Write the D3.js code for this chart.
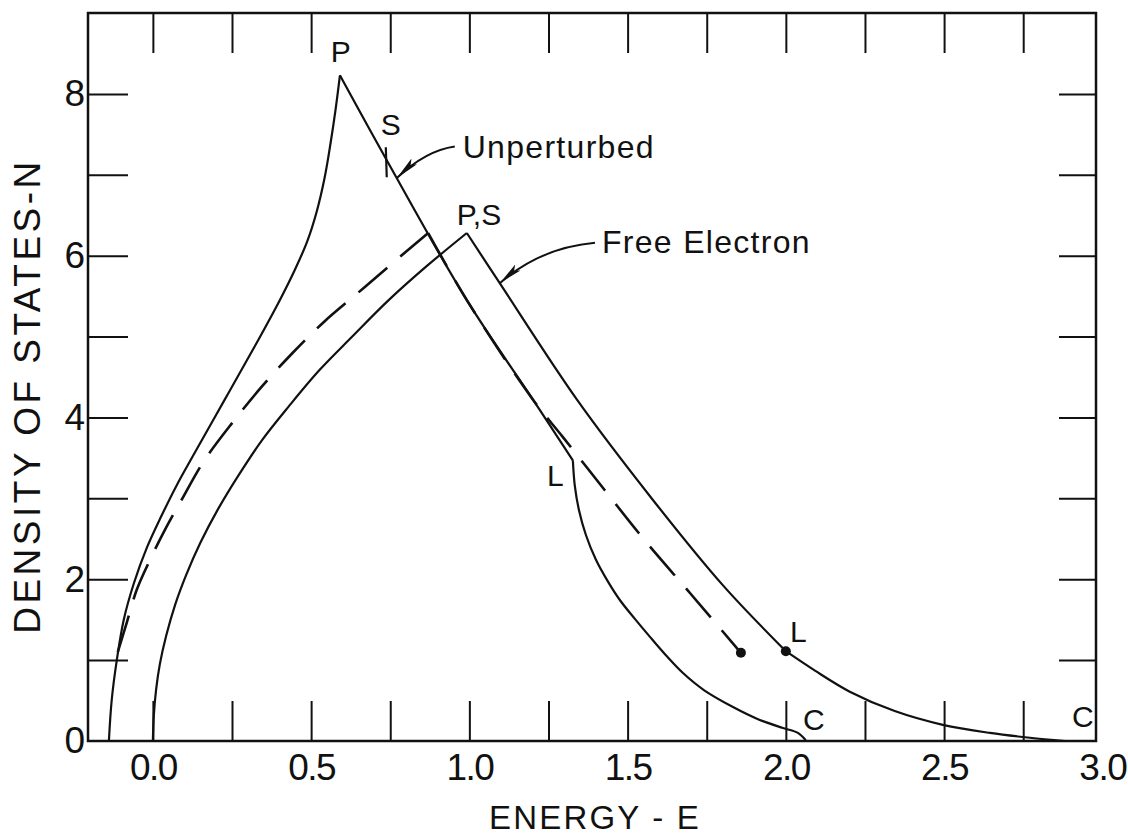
<!DOCTYPE html>
<html>
<head>
<meta charset="utf-8">
<script src="https://cdn.jsdelivr.net/npm/d3@7/dist/d3.min.js"></script>
<style>
  body { margin: 0; background: #fff; }
  text { font-family: "Liberation Sans", Arial, sans-serif; fill: #111; }
</style>
</head>
<body>
<svg id="chart" width="1128" height="836"></svg>
<script>

// [energy E, density N]
const unperturbedRise = [[-0.139,0],[-0.130,0.51],[-0.114,1.00],[-0.092,1.50],[-0.060,1.95],[-0.019,2.39],
  [0.028,2.79],[0.075,3.16],[0.126,3.52],[0.227,4.22],[0.322,4.88],[0.401,5.45],[0.448,5.82],[0.488,6.18],
  [0.518,6.55],[0.542,6.95],[0.561,7.38],[0.577,7.80],[0.591,8.23]];
const unperturbedFall = [[0.591,8.23],[0.739,7.18],[0.992,5.45],[1.201,4.22],[1.327,3.47]];
const unperturbedTail = [[1.327,3.47],[1.333,3.16],[1.346,2.86],[1.368,2.55],[1.400,2.24],[1.438,1.97],
  [1.476,1.74],[1.523,1.51],[1.570,1.29],[1.621,1.06],[1.675,0.84],[1.741,0.63],[1.833,0.42],[1.912,0.27],
  [1.991,0.16],[2.038,0.10],[2.063,0.01]];

const freeRise = [[0,0],[0.003,0.32],[0.010,0.63],[0.022,0.95],[0.042,1.30],[0.070,1.68],[0.105,2.05],
  [0.150,2.45],[0.205,2.86],[0.270,3.28],[0.345,3.72],[0.430,4.14],[0.525,4.58],[0.630,5.00],[0.745,5.45],
  [0.865,5.87],[0.992,6.28]];
const freeFall = [[0.992,6.28],[1.096,5.66],[1.340,4.22],[1.580,2.98],[1.800,1.93],[2.000,1.11]];
const freeTail = [[2.000,1.11],[2.092,0.87],[2.202,0.61],[2.344,0.37],[2.496,0.20],[2.645,0.10],
  [2.771,0.04],[2.882,0]];

const dashedRise = [[-0.111,1.10],[-0.082,1.47],[-0.051,1.87],[-0.009,2.24],[0.038,2.61],[0.092,2.99],
  [0.161,3.46],[0.250,3.93],[0.344,4.38],[0.442,4.80],[0.543,5.19],[0.645,5.53],[0.749,5.88],[0.870,6.28]];
const dashedFall = [[0.870,6.28],[0.992,5.45],[1.201,4.22],[1.295,3.76],[1.428,3.10],[1.548,2.51],
  [1.697,1.83],[1.858,1.09]];

const dots = [[1.858,1.09],[2.000,1.11]];

const tickE = [0,0.25,0.5,0.75,1,1.25,1.5,1.75,2,2.25,2.5,2.75];
const labelE = [0,0.5,1,1.5,2,2.5,3];
const tickN = [1,2,3,4,5,6,7,8];
const labelN = [0,2,4,6,8];

const pointLabels = [
  {t: "P", e: 0.594, n: 8.39, anchor: "middle"},
  {t: "S", e: 0.752, n: 7.49, anchor: "middle"},
  {t: "P,S", e: 0.960, n: 6.38, anchor: "start"},
  {t: "L", e: 1.245, n: 3.15, anchor: "start"},
  {t: "L", e: 2.013, n: 1.22, anchor: "start"},
  {t: "C", e: 2.054, n: 0.14, anchor: "start"},
  {t: "C", e: 2.904, n: 0.17, anchor: "start"}
];

const callouts = [
  {t: "Unperturbed", e: 0.979, n: 7.21, from: [0.954,7.35], ctrl: [0.862,7.30], to: [0.771,6.96]},
  {t: "Free Electron", e: 1.419, n: 6.03, from: [1.397,6.16], ctrl: [1.225,6.10], to: [1.096,5.66]}
];

let svg = d3.select("#chart");

let x = d3.scaleLinear().domain([-0.205, 2.98]).range([88, 1096]),
    y = d3.scaleLinear().domain([0, 9]).range([741, 13]);

let line = d3.line()
  .x(d => x(d[0]))
  .y(d => y(d[1]))
  .curve(d3.curveCatmullRom.alpha(0.5));

// inner ticks on all four sides
let ticks = (g, axis) => {
  g.call(axis.tickSizeOuter(0).tickFormat(""));
  g.select(".domain").remove();
  g.selectAll(".tick line").attr("stroke", "#111").attr("stroke-width", 2);
};

svg.append("g").attr("transform", `translate(0,${y(0)})`)
  .call(ticks, d3.axisBottom(x).tickValues(tickE).tickSize(-40));
svg.append("g").attr("transform", `translate(0,${y(9)})`)
  .call(ticks, d3.axisTop(x).tickValues(tickE).tickSize(-40));
svg.append("g").attr("transform", `translate(${x(-0.205)},0)`)
  .call(ticks, d3.axisLeft(y).tickValues(tickN).tickSize(-40));
svg.append("g").attr("transform", `translate(${x(2.98)},0)`)
  .call(ticks, d3.axisRight(y).tickValues(tickN).tickSize(-37));

svg.append("rect")
  .attr("x", x(-0.205)).attr("y", y(9))
  .attr("width", x(2.98) - x(-0.205)).attr("height", y(0) - y(9))
  .attr("fill", "none").attr("stroke", "#111").attr("stroke-width", 2.5);

// tick labels
let labels = (g, axis) => {
  g.call(axis);
  g.select(".domain").remove();
  g.attr("font-size", null).attr("font-family", null);
  g.selectAll("text").style("font-size", "37px").attr("fill", "#111");
};

svg.append("g").attr("transform", `translate(0,${y(0)})`)
  .call(labels, d3.axisBottom(x).tickValues(labelE).tickSize(0).tickPadding(13).tickFormat(d3.format(".1f")))
  .selectAll("text").attr("letter-spacing", -1.5);
svg.append("g").attr("transform", `translate(${x(-0.205)},0)`)
  .call(labels, d3.axisLeft(y).tickValues(labelN).tickSize(0).tickPadding(3).tickFormat(d3.format("d")));

// axis titles
svg.append("text")
  .attr("x", 595).attr("y", 829)
  .attr("text-anchor", "middle")
  .attr("font-size", 33)
  .attr("letter-spacing", 2.2)
  .text("ENERGY - E");

svg.append("text")
  .attr("transform", "translate(40,396) rotate(-90)")
  .attr("text-anchor", "middle")
  .attr("font-size", 37)
  .attr("letter-spacing", 3.5)
  .text("DENSITY OF STATES-N");

// curves
let plot = svg.append("g")
  .attr("fill", "none")
  .attr("stroke", "#111")
  .attr("stroke-width", 2.2)
  .attr("stroke-linejoin", "miter");

[unperturbedRise, unperturbedFall, unperturbedTail, freeRise, freeFall, freeTail].forEach(d => {
  plot.append("path").attr("d", line(d));
});

[dashedRise, dashedFall].forEach(d => {
  plot.append("path")
    .attr("d", line(d))
    .attr("stroke-width", 2.6)
    .attr("stroke-dasharray", "38,17");
});

svg.selectAll("circle.dot")
  .data(dots)
  .enter().append("circle")
  .classed("dot", true)
  .attr("cx", d => x(d[0]))
  .attr("cy", d => y(d[1]))
  .attr("r", 5)
  .attr("fill", "#111");

// S marker across the unperturbed line
svg.append("line")
  .attr("x1", x(0.736)).attr("y1", y(7.34))
  .attr("x2", x(0.739)).attr("y2", y(6.97))
  .attr("stroke", "#111").attr("stroke-width", 2.2);

svg.selectAll("text.pt")
  .data(pointLabels)
  .enter().append("text")
  .classed("pt", true)
  .attr("x", d => x(d.e))
  .attr("y", d => y(d.n))
  .attr("text-anchor", d => d.anchor)
  .attr("font-size", 30)
  .text(d => d.t);

// callouts with arrows
svg.append("defs").append("marker")
  .attr("id", "head")
  .attr("viewBox", "0 0 24 10")
  .attr("refX", 24).attr("refY", 5)
  .attr("markerWidth", 24).attr("markerHeight", 10)
  .attr("markerUnits", "userSpaceOnUse")
  .attr("orient", "auto")
  .append("path")
  .attr("d", "M0,1 L24,5 L0,9 L5,5 Z")
  .attr("fill", "#111");

callouts.forEach(c => {
  let p = d3.path();
  p.moveTo(x(c.from[0]), y(c.from[1]));
  p.quadraticCurveTo(x(c.ctrl[0]), y(c.ctrl[1]), x(c.to[0]), y(c.to[1]));

  svg.append("path")
    .attr("d", p.toString())
    .attr("fill", "none")
    .attr("stroke", "#111")
    .attr("stroke-width", 2)
    .attr("marker-end", "url(#head)");

  svg.append("text")
    .attr("x", x(c.e)).attr("y", y(c.n))
    .attr("font-size", 32)
    .attr("letter-spacing", 1.3)
    .text(c.t);
});

</script>
</body>
</html>
